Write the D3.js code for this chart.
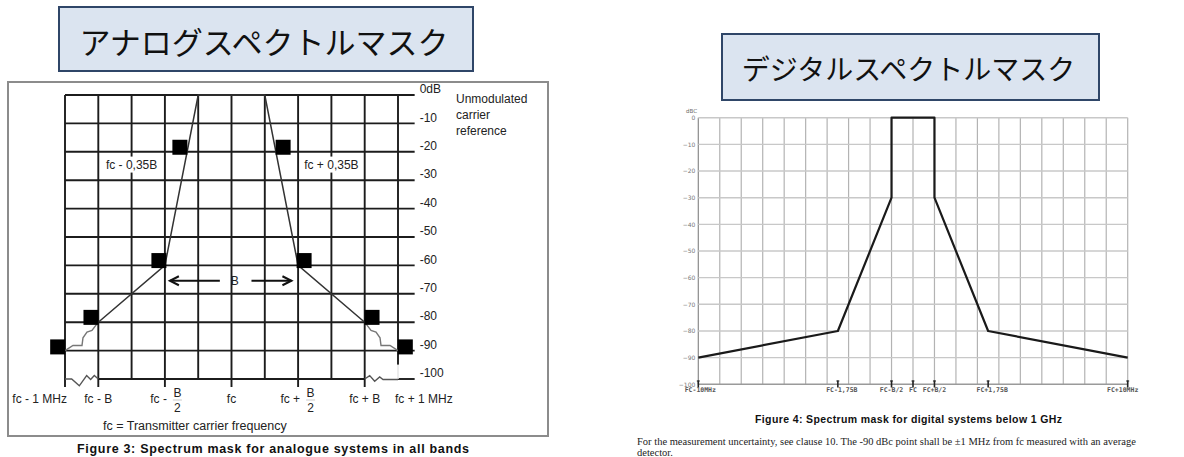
<!DOCTYPE html>
<html><head><meta charset="utf-8">
<script src="https://cdn.jsdelivr.net/npm/d3@7/dist/d3.min.js"></script>
<style>html,body{margin:0;padding:0;background:#fff;overflow:hidden}</style>
</head><body>
<script>
// ---------- Data: analogue mask ----------
const analogTitle = "アナログスペクトルマスク";
const analogDbTicks = [0,-10,-20,-30,-40,-50,-60,-70,-80,-90,-100];
const analogDbLabels = ["0dB","-10","-20","-30","-40","-50","-60","-70","-80","-90","-100"];
const analogFreqPos = [-5,-4,-2,0,2,4,5];
const analogFreqLabels = ["fc - 1 MHz","fc - B","fc - B/2","fc","fc + B/2","fc + B","fc + 1 MHz"];
const analogMaskF  = [-4,-2,-1,1,2,4];
const analogMaskDb = [-80,-60,0,0,-60,-80];
const analogStepF  = [-5,-4.76,-4.49,-4.46,-4.34,-4.19,-4.04];
const analogStepDb = [-90,-88.2,-88.2,-85.5,-83.5,-82.9,-80.6];
const analogLimitF  = [-5.22,-4.22,-2.18,-1.55,1.55,2.18,4.22,5.22];
const analogLimitDb = [-88.7,-78.3,-58.3,-18.4,-18.4,-58.3,-78.3,-88.7];
const analogBreakLF = [-5,-4.8,-4.57,-4.35,-4.23,-4.12,-4];
const analogBreakLDb= [-100,-100,-102.4,-98.8,-100.2,-98.8,-100];
const analogBreakRF = [4,4.15,4.3,4.45,4.55,5];
const analogBreakRDb= [-100,-98.8,-100.8,-99.3,-100.2,-100.2];
const analogNotes = ["fc - 0,35B","fc + 0,35B"];
const analogNoteF = [-3,3];
const analogNoteDb = [-24.5,-24.5];
const analogSideNote = ["Unmodulated","carrier","reference"];
const analogLegend = "fc = Transmitter carrier frequency";
const analogCaption = "Figure 3: Spectrum mask for analogue systems in all bands";

// ---------- Data: digital mask ----------
const digitalTitle = "デジタルスペクトルマスク";
const digitalDbTicks = [0,-10,-20,-30,-40,-50,-60,-70,-80,-90,-100];
const digitalMaskF  = [-10,-3.5,-1,-1,1,1,3.5,10];
const digitalMaskDb = [-90,-80,-30,0,0,-30,-80,-90];
const digitalTickPos = [-10,-3.5,-1,0,1,3.5,10];
const digitalTickLabels = ["FC-10MHz","FC-1,75B","FC-B/2","FC","FC+B/2","FC+1,75B","FC+10MHz"];
const digitalCaption = "Figure 4: Spectrum mask for digital systems below 1 GHz";
const digitalNote = ["For the measurement uncertainty, see clause 10. The -90 dBc point shall be \u00b11 MHz from fc measured with an average","detector."];

const W = 1184, H = 457;
const svg = d3.select("body").append("svg").attr("width", W).attr("height", H)
  .style("font-family", "'Liberation Sans', Arial, sans-serif");
svg.append("rect").attr("width", W).attr("height", H).attr("fill", "#fff");

const jp = "'Noto Sans CJK JP','Noto Sans CJK SC',sans-serif";

// ---------- Analogue chart ----------
const gA = svg.append("g");
gA.append("rect").attr("x", 8).attr("y", 82).attr("width", 540).attr("height", 354)
  .attr("fill", "#fff").attr("stroke", "#8c8c8c").attr("stroke-width", 2);

const xL = d3.scaleLinear().domain([-5, 5]).range([65, 398]);
const yL = d3.scaleLinear().domain([0, -100]).range([95, 379]);
const gridC = "#1c1c1c", gridW = 1.9;

// vertical grid
d3.range(-5, 6).forEach(f => {
  let y2 = yL(-100);
  if (f === 5) y2 = yL(-95);
  else if (analogFreqPos.includes(f)) y2 = yL(-100) + 8;
  gA.append("line").attr("x1", xL(f)).attr("x2", xL(f)).attr("y1", yL(0)).attr("y2", y2)
    .attr("stroke", gridC).attr("stroke-width", gridW);
});
// horizontal grid
analogDbTicks.forEach(d => {
  const segs = d === -100 ? [[-4, 4], [5, 5.5]] : [[-5, 5.5]];
  segs.forEach(s => gA.append("line").attr("x1", xL(s[0])).attr("x2", xL(s[1]))
    .attr("y1", yL(d)).attr("y2", yL(d)).attr("stroke", gridC).attr("stroke-width", gridW));
});
// pale gap on the fc+1MHz line
gA.append("line").attr("x1", xL(5)).attr("x2", xL(5)).attr("y1", yL(-95)).attr("y2", yL(-100))
  .attr("stroke", "#e6e6e6").attr("stroke-width", 1.5);

// notes with white background
analogNotes.forEach((t, i) => {
  const tx = gA.append("text").attr("x", xL(analogNoteF[i])).attr("y", yL(analogNoteDb[i]))
    .attr("text-anchor", "middle").attr("dominant-baseline", "central")
    .attr("font-size", 12).attr("fill", "#222").text(t);
  const bb = tx.node().getBBox();
  gA.insert("rect", () => tx.node()).attr("x", bb.x - 1).attr("y", bb.y - 1)
    .attr("width", bb.width + 2).attr("height", bb.height + 2).attr("fill", "#fff");
});

// breaks on the axis
const lineL = d3.line().x(d => xL(d[0])).y(d => yL(d[1]));
gA.append("path").attr("d", lineL(d3.zip(analogBreakLF, analogBreakLDb)))
  .attr("fill", "none").attr("stroke", "#555").attr("stroke-width", 1.4);
gA.append("path").attr("d", lineL(d3.zip(analogBreakRF, analogBreakRDb)))
  .attr("fill", "none").attr("stroke", "#555").attr("stroke-width", 1.4);

// mask line
gA.append("path").attr("d", lineL(d3.zip(analogMaskF, analogMaskDb)))
  .attr("fill", "none").attr("stroke", "#333").attr("stroke-width", 1.5);
// staircases
gA.append("path").attr("d", lineL(d3.zip(analogStepF, analogStepDb)))
  .attr("fill", "none").attr("stroke", "#777").attr("stroke-width", 1.4);
gA.append("path").attr("d", lineL(d3.zip(analogStepF.map(f => -f), analogStepDb)))
  .attr("fill", "none").attr("stroke", "#777").attr("stroke-width", 1.4);

// limit markers
const sq = 15;
gA.selectAll("rect.lim").data(d3.zip(analogLimitF, analogLimitDb)).join("rect")
  .attr("class", "lim").attr("x", d => xL(d[0]) - sq / 2).attr("y", d => yL(d[1]) - sq / 2)
  .attr("width", sq).attr("height", sq).attr("fill", "#000");

// B arrows
const arrowDb = -65.4;
const ay = yL(arrowDb);
gA.append("line").attr("x1", xL(-1.85)).attr("x2", xL(-0.35)).attr("y1", ay).attr("y2", ay)
  .attr("stroke", "#111").attr("stroke-width", 2);
gA.append("path").attr("d", `M${xL(-1.85) + 9},${ay - 4.5}L${xL(-1.85)},${ay}L${xL(-1.85) + 9},${ay + 4.5}`)
  .attr("fill", "none").attr("stroke", "#111").attr("stroke-width", 2);
gA.append("line").attr("x1", xL(0.6)).attr("x2", xL(1.8)).attr("y1", ay).attr("y2", ay)
  .attr("stroke", "#111").attr("stroke-width", 2);
gA.append("path").attr("d", `M${xL(1.8) - 9},${ay - 4.5}L${xL(1.8)},${ay}L${xL(1.8) - 9},${ay + 4.5}`)
  .attr("fill", "none").attr("stroke", "#111").attr("stroke-width", 2);
gA.append("text").attr("x", xL(0.1)).attr("y", ay).attr("text-anchor", "middle")
  .attr("dominant-baseline", "central").attr("font-size", 12).attr("fill", "#222").text("B");

// y tick labels (right axis)
const axR = d3.axisRight(yL).tickValues(analogDbTicks).tickSize(0).tickPadding(0)
  .tickFormat((d, i) => analogDbLabels[i]);
const gAx = gA.append("g").attr("transform", `translate(${xL(5.5) + 5},0)`).call(axR);
gAx.select(".domain").remove();
gAx.selectAll("text").attr("font-size", 12).attr("fill", "#222")
  .attr("font-family", "'Liberation Sans', Arial, sans-serif").attr("dy", "-0.2em");

// side note
analogSideNote.forEach((t, i) => gA.append("text").attr("x", 456).attr("y", 98.5 + i * 16)
  .attr("dominant-baseline", "central").attr("font-size", 12).attr("fill", "#222").text(t));

// x labels
const labY = 399;
analogFreqLabels.forEach((t, i) => {
  const x = xL(analogFreqPos[i]);
  if (t.includes("/")) {
    const m = t.match(/^(.*?)\s*([A-Za-z]+)\/(\d+)$/);
    gA.append("text").attr("x", x + 2).attr("y", labY).attr("text-anchor", "end")
      .attr("dominant-baseline", "central").attr("font-size", 12).attr("fill", "#222").text(m[1]);
    gA.append("text").attr("x", x + 12.5).attr("y", labY - 6).attr("text-anchor", "middle")
      .attr("dominant-baseline", "central").attr("font-size", 12).attr("fill", "#222").text(m[2]);
    gA.append("line").attr("x1", x + 8).attr("x2", x + 17).attr("y1", labY + 1).attr("y2", labY + 1)
      .attr("stroke", "#bbb").attr("stroke-width", 0.8);
    gA.append("text").attr("x", x + 12.5).attr("y", labY + 9).attr("text-anchor", "middle")
      .attr("dominant-baseline", "central").attr("font-size", 12).attr("fill", "#222").text(m[3]);
  } else {
    const first = i === 0, last = i === analogFreqLabels.length - 1;
    gA.append("text").attr("x", first ? x + 2 : last ? x - 3 : x)
      .attr("y", labY).attr("text-anchor", first ? "end" : last ? "start" : "middle")
      .attr("dominant-baseline", "central").attr("font-size", 12).attr("fill", "#222").text(t);
  }
});
gA.append("text").attr("x", 103).attr("y", 426).attr("dominant-baseline", "central")
  .attr("font-size", 12.5).attr("fill", "#222").text(analogLegend);
gA.append("text").attr("x", 77).attr("y", 452.5).attr("font-size", 12.5).attr("font-weight", "bold")
  .attr("fill", "#111").attr("textLength", 392).attr("lengthAdjust", "spacing").text(analogCaption);

// title box
function titleBox(x, y, w, h, fs, text) {
  svg.append("rect").attr("x", x).attr("y", y).attr("width", w).attr("height", h)
    .attr("fill", "#dbe4f0").attr("stroke", "#2f4668").attr("stroke-width", 2);
  svg.append("text").attr("x", x + w / 2 - 2).attr("y", y + h / 2 + 1).attr("text-anchor", "middle")
    .attr("dominant-baseline", "central").attr("font-family", jp).attr("font-size", fs)
    .attr("fill", "#111").text(text);
}
titleBox(59, 7, 414, 64, 31, analogTitle);
titleBox(722, 34, 377, 66, 28, digitalTitle);

// ---------- Digital chart ----------
const gD = svg.append("g");
const xD = d3.scaleLinear().domain([-10, 10]).range([698.3, 1127.7]);
const yD = d3.scaleLinear().domain([0, -100]).range([117.7, 384.3]);

d3.range(-10, 11).forEach(f => gD.append("line").attr("x1", xD(f)).attr("x2", xD(f))
  .attr("y1", yD(0)).attr("y2", yD(-100)).attr("stroke", f === -10 ? "#8a8a8a" : "#b3b3b3")
  .attr("stroke-width", 1.2));
digitalDbTicks.forEach(d => gD.append("line").attr("x1", xD(-10)).attr("x2", xD(10))
  .attr("y1", yD(d)).attr("y2", yD(d)).attr("stroke", d === -100 ? "#9a9a9a" : "#c8c8c8")
  .attr("stroke-width", 1.4));

const axL = d3.axisLeft(yD).tickValues(digitalDbTicks).tickSize(0).tickPadding(3);
const gDy = gD.append("g").attr("transform", `translate(${xD(-10)},0)`).call(axL);
gDy.select(".domain").remove();
gDy.selectAll("text").attr("font-size", 6).attr("fill", "#777")
  .attr("font-family", "'DejaVu Sans', sans-serif");
gD.append("text").attr("x", 686).attr("y", 111).attr("font-size", 5.5).attr("fill", "#666")
  .attr("font-family", "'DejaVu Sans', sans-serif").attr("dominant-baseline", "central").text("dBC");

// mask
const lineD = d3.line().x(d => xD(d[0])).y(d => yD(d[1]));
gD.append("path").attr("d", lineD(d3.zip(digitalMaskF, digitalMaskDb)))
  .attr("fill", "none").attr("stroke", "#1a1a1a").attr("stroke-width", 2.2).attr("stroke-linejoin", "round");

// x ticks (I-beams) and labels
digitalTickPos.forEach((f, i) => {
  const x = xD(f);
  gD.append("line").attr("x1", x).attr("x2", x).attr("y1", 380.5).attr("y2", 387.5)
    .attr("stroke", "#222").attr("stroke-width", 1.6);
  gD.append("line").attr("x1", x - 1.5).attr("x2", x + 1.5).attr("y1", 381).attr("y2", 381)
    .attr("stroke", "#222").attr("stroke-width", 1);
  gD.append("text").attr("x", x + (i === 1 || i === 5 ? 4 : i === 6 ? -5 : i === 0 ? 2 : 0)).attr("y", 390)
    .attr("text-anchor", "middle").attr("dominant-baseline", "central")
    .attr("font-family", "'DejaVu Sans Mono', monospace").attr("font-weight", "bold")
    .attr("font-size", 6.5).attr("fill", "#555").text(digitalTickLabels[i]);
});

gD.append("text").attr("x", 755).attr("y", 418.5).attr("dominant-baseline", "central")
  .attr("font-size", 10.5).attr("font-weight", "bold").attr("fill", "#111")
  .attr("textLength", 307).attr("lengthAdjust", "spacing").text(digitalCaption);
digitalNote.forEach((t, i) => gD.append("text").attr("x", 637).attr("y", 441.5 + i * 10.5)
  .attr("dominant-baseline", "central").attr("font-family", "'Liberation Serif', 'Times New Roman', serif")
  .attr("font-size", 10.5).attr("fill", "#222").text(t));
</script>
</body></html>
